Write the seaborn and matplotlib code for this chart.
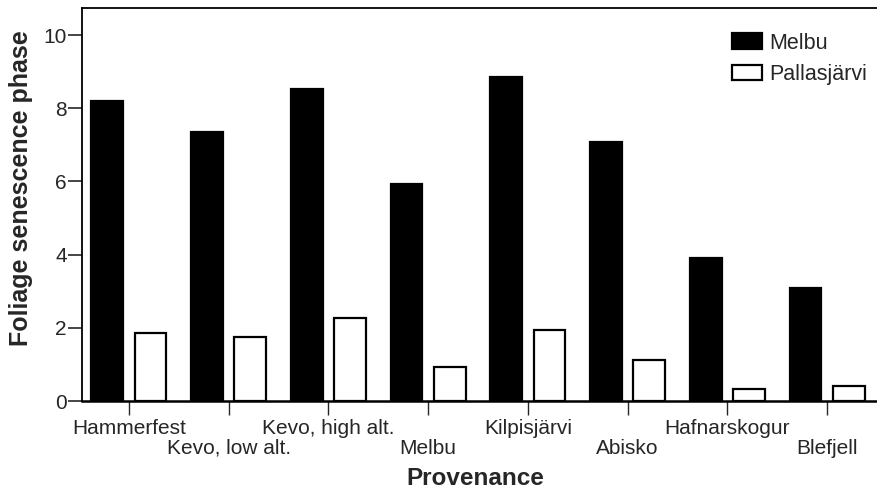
import pandas as pd
import matplotlib
matplotlib.use("Agg")
import matplotlib.pyplot as plt
import seaborn as sns

# values
provenances = ["Hammerfest", "Kevo, low alt.", "Kevo, high alt.", "Melbu",
               "Kilpisjärvi", "Abisko", "Hafnarskogur", "Blefjell"]
melbu = [8.2, 7.35, 8.52, 5.93, 8.85, 7.07, 3.9, 3.1]
pallasjarvi = [1.85, 1.75, 2.28, 0.92, 1.94, 1.12, 0.33, 0.41]
sites = ["Melbu", "Pallasjärvi"]
y_ticks = [0, 2, 4, 6, 8, 10]

df = pd.DataFrame({
    "Provenance": provenances * 2,
    "Site": [sites[0]] * len(melbu) + [sites[1]] * len(pallasjarvi),
    "Phase": melbu + pallasjarvi,
})

sns.set_style("ticks")
plt.rcParams["font.family"] = ["Liberation Sans", "DejaVu Sans"]

fig = plt.figure(figsize=(8.78, 4.9), dpi=100)
ax = fig.add_axes([0.0934, 0.1816, 0.9066, 0.802])

sns.barplot(data=df, x="Provenance", y="Phase", hue="Site",
            palette={"Melbu": "black", "Pallasjärvi": "white"},
            edgecolor="black", linewidth=1.6, width=0.87, gap=0.27,
            errorbar=None, ax=ax)

ax.set_ylim(0, 10.74)
ax.set_xlim(-0.47, 7.51)
ax.set_yticks(y_ticks)
ax.set_yticklabels([str(t) for t in y_ticks], fontsize=15)

# provenance labels alternate on two rows: even ones as major ticks,
# odd ones as minor ticks with a bigger pad
pos = list(range(len(provenances)))
ax.set_xticks(pos[0::2])
ax.set_xticklabels(provenances[0::2], fontsize=15)
ax.set_xticks(pos[1::2], minor=True)
ax.set_xticklabels(provenances[1::2], minor=True, fontsize=15)
ax.tick_params(axis="x", which="major", length=10, width=1, pad=3)
ax.tick_params(axis="x", which="minor", length=10, width=1, pad=17)
ax.tick_params(axis="y", length=10, width=1.2, pad=1)

ax.set_xlabel("Provenance", fontsize=17.5, fontweight="bold")
ax.xaxis.set_label_coords(0.494, -0.168)
ax.set_ylabel("Foliage senescence phase", fontsize=18, fontweight="bold")
ax.yaxis.set_label_coords(-0.062, 0.542)

ax.spines["right"].set_visible(False)
ax.spines["top"].set_visible(True)
for s in ["left", "top"]:
    ax.spines[s].set_linewidth(1.3)
ax.spines["bottom"].set_linewidth(1.8)
for s in ["left", "top", "bottom"]:
    ax.spines[s].set_color("black")

handles, lbls = ax.get_legend_handles_labels()
ax.legend(handles, lbls, frameon=False, loc="upper right",
          bbox_to_anchor=(1.011, 0.987), fontsize=15.5,
          handlelength=1.4, handleheight=0.7, handletextpad=0.35,
          labelspacing=0.5)

fig.savefig("out.png", dpi=100)
